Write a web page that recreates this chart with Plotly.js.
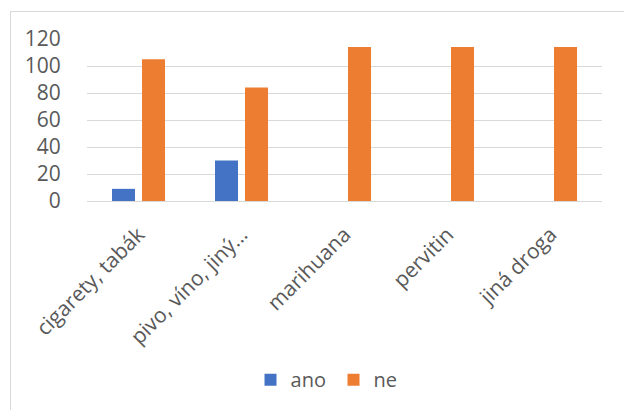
<!DOCTYPE html>
<html>
<head>
<meta charset="utf-8">
<script src="https://cdn.plot.ly/plotly-3.0.1.min.js"></script>
<style>
  html, body { margin: 0; padding: 0; background: #fff; }
  #wrap { position: relative; width: 624px; height: 410px; overflow: hidden; }
  #chart { position: absolute; left: 0; top: 0; width: 624px; height: 410px; }
  #frame { position: absolute; left: 10px; top: 11px; width: 640px; height: 420px;
           border-left: 1px solid #d9d9d9; border-top: 1px solid #d9d9d9; pointer-events: none; }
</style>
</head>
<body>
<div id="wrap">
  <div id="chart"></div>
  <div id="frame"></div>
</div>
<script>
const categories = ["cigarety, tabák", "pivo, víno, jiný…", "marihuana", "pervitin", "jiná droga"];
const seriesNames = ["ano", "ne"];
const anoValues = [9, 30, 0, 0, 0];
const neValues = [105, 84, 114, 114, 114];
const yTicks = [0, 20, 40, 60, 80, 100, 120];

const textColor = "#595959";
const fontFamily = "'Open Sans', 'Noto Sans', sans-serif";

const traces = [
  { type: "bar", name: seriesNames[0], x: categories, y: anoValues,
    marker: { color: "#4472C4" }, hoverinfo: "none" },
  { type: "bar", name: seriesNames[1], x: categories, y: neValues,
    marker: { color: "#ED7D31" }, hoverinfo: "none" }
];

const layout = {
  width: 624, height: 410,
  margin: { l: 87, r: 22, t: 39, b: 208, pad: 0 },
  paper_bgcolor: "rgba(0,0,0,0)",
  plot_bgcolor: "#fff",
  barmode: "group",
  bargap: 0.417,
  bargroupgap: 0.233,
  font: { family: fontFamily, color: textColor, size: 19 },
  xaxis: {
    type: "category",
    tickangle: -45,
    tickfont: { size: 21, color: textColor },
    showgrid: false,
    showline: true, linecolor: "#d9d9d9", linewidth: 1,
    ticks: "", ticklabelstandoff: 12, automargin: false
  },
  yaxis: {
    range: [0, 120],
    tickvals: yTicks,
    ticktext: yTicks.map(String),
    tickfont: { size: 21, color: textColor },
    showgrid: true, gridcolor: "#d9d9d9", gridwidth: 1,
    zeroline: false, showline: false,
    ticks: "outside", ticklen: 21, tickcolor: "rgba(0,0,0,0)",
    automargin: false
  },
  showlegend: true,
  legend: {
    orientation: "h",
    x: 0.3175, xanchor: "left",
    y: -1.09, yanchor: "middle",
    font: { size: 20, color: textColor },
    itemwidth: 30,
    entrywidth: 38, entrywidthmode: "pixels",
    bgcolor: "rgba(0,0,0,0)"
  }
};

Plotly.newPlot("chart", traces, layout, { staticPlot: true, displayModeBar: false });
</script>
</body>
</html>
